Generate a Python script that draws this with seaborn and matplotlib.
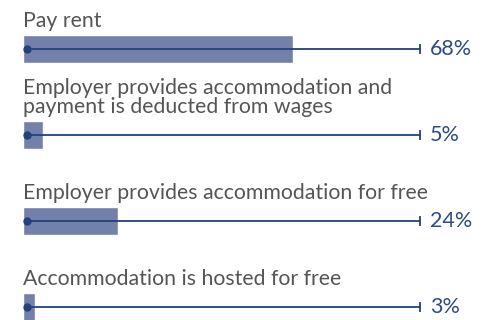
import matplotlib
matplotlib.use("Agg")
import matplotlib.pyplot as plt
import seaborn as sns
import pandas as pd

# Survey answers: how housing is arranged
categories = [
    "Pay rent",
    "Employer provides accommodation and\npayment is deducted from wages",
    "Employer provides accommodation for free",
    "Accommodation is hosted for free",
]
shares = [68, 5, 24, 3]
value_labels = ["68%", "5%", "24%", "3%"]

bar_color = "#7280aa"
line_color = "#22427e"
label_color = "#555555"
value_color = "#2c4a86"

sns.set_theme(style="white")
plt.rcParams["font.family"] = ["Lato", "DejaVu Sans"]

df = pd.DataFrame({"category": categories, "share": shares})

fig = plt.figure(figsize=(4.92, 3.2), dpi=100)
ax = fig.add_axes([0, 0, 1, 1])

sns.barplot(data=df, x="share", y="category", orient="h",
            color=bar_color, saturation=1, width=0.32, ax=ax)

for i, (cat, lab) in enumerate(zip(categories, value_labels)):
    # full-scale track from the origin dot to the 100% tick
    ax.plot([1, 100], [i, i], color=line_color, lw=1.3, zorder=3)
    ax.plot([1], [i], marker="o", ms=5, color=line_color, zorder=4)
    ax.plot([100], [i], marker="|", ms=7, mew=1.3, color=line_color, zorder=4)
    ax.text(0, i - 0.215, cat, ha="left", va="bottom", fontsize=15.3,
            color=label_color, linespacing=0.9)
    ax.text(102.5, i, lab, ha="left", va="center", fontsize=15.5,
            color=value_color)

ax.set_xlim(-5.8, 118.1)
ax.set_ylim(3.15, -0.57)
ax.axis("off")

fig.savefig("out.png", dpi=100)
